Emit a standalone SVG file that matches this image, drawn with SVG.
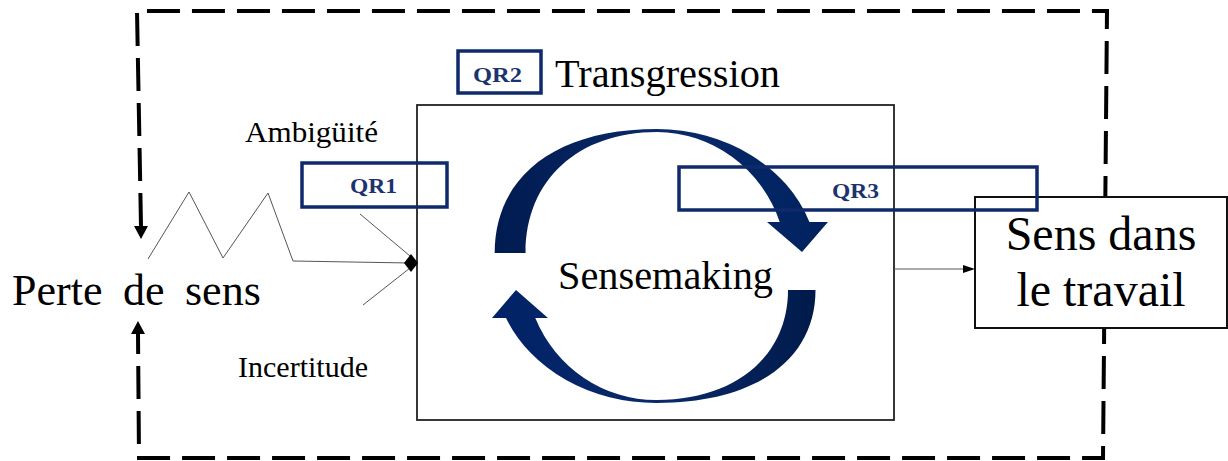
<svg xmlns="http://www.w3.org/2000/svg" width="1228" height="461" viewBox="0 0 1228 461">
<style>
.serif{font-family:"Liberation Serif","Times New Roman",serif;fill:#000}
.qr{font-family:"Liberation Serif","Times New Roman",serif;font-weight:bold;fill:#1d336e}
.qrbox{fill:none;stroke:#0f2a6b;stroke-width:3.5}
.thin{fill:none;stroke:#555;stroke-width:1}
.dash{fill:none;stroke:#000;stroke-width:4;stroke-dasharray:33 12}
</style>
<defs>
<linearGradient id="gUp" x1="0" y1="0" x2="1" y2="0">
<stop offset="0" stop-color="#001b50"/><stop offset="0.5" stop-color="#0a2a6a"/><stop offset="1" stop-color="#00225f"/>
</linearGradient>
<linearGradient id="gDown" x1="0" y1="0" x2="1" y2="0">
<stop offset="0" stop-color="#002266"/><stop offset="0.5" stop-color="#0a2a6a"/><stop offset="1" stop-color="#001a4a"/>
</linearGradient>
</defs>
<rect width="1228" height="461" fill="#fff"/>

<g id="loop">
<path class="dash" d="M141,226 L137,11 L1107,11 L1103,458 L139,458 L138,334"/>
<polygon points="134,226 148,226 141,239" fill="#000"/>
<polygon points="131,334 145,334 138,321" fill="#000"/>
</g>

<g id="sensemaking-box">
<rect x="417" y="105" width="477" height="315" fill="none" stroke="#222" stroke-width="1.8"/>
<path id="arrow-up" d="M494.7,253 C494.7,176 556,129 657,129 A162,137 0 0 1 809.4,222 L828,222 L802,252 L767,222 L779.7,222 A131,134 0 0 0 657,132 C578,132 525.6,180 525.6,253 Z" fill="url(#gUp)"/>
<path id="arrow-down" d="M815.5,290 C815.5,360 755,403 657,403 A162,137 0 0 1 506,318 L492,318 L516,290 L548,318 L535.3,318 A131,134 0 0 0 657,400 C735.6,400 788,356 788,290 Z" fill="url(#gDown)"/>
<text class="serif" x="558" y="289" font-size="41" textLength="215" lengthAdjust="spacingAndGlyphs">Sensemaking</text>
</g>

<g id="sens-travail">
<rect x="975" y="197" width="252" height="131" fill="#fff" stroke="#111" stroke-width="2"/>
<text class="serif" x="1101" y="250" font-size="48" text-anchor="middle">Sens dans</text>
<text class="serif" x="1101" y="306" font-size="48" text-anchor="middle">le travail</text>
</g>

<g id="perte">
<text class="serif" y="305" font-size="44"><tspan x="12">Perte</tspan><tspan x="123">de</tspan><tspan x="185">sens</tspan></text>
</g>

<g id="ambiguite">
<text class="serif" x="245" y="142" font-size="30" textLength="133" lengthAdjust="spacingAndGlyphs">Ambigüité</text>
</g>

<g id="incertitude">
<text class="serif" x="238" y="377" font-size="30" textLength="130" lengthAdjust="spacingAndGlyphs">Incertitude</text>
</g>

<g id="qr1">
<rect class="qrbox" x="302" y="163" width="145" height="44"/>
<text class="qr" x="350" y="193" font-size="22" textLength="47" lengthAdjust="spacingAndGlyphs">QR1</text>
</g>

<g id="qr2">
<rect class="qrbox" x="458" y="51" width="83" height="42"/>
<text class="qr" x="473" y="82" font-size="20" textLength="49" lengthAdjust="spacingAndGlyphs">QR2</text>
<text class="serif" x="555" y="87" font-size="41" textLength="225" lengthAdjust="spacingAndGlyphs">Transgression</text>
</g>

<g id="qr3">
<rect class="qrbox" x="679" y="167" width="358" height="43"/>
<text class="qr" x="832" y="198" font-size="22" textLength="47" lengthAdjust="spacingAndGlyphs">QR3</text>
</g>

<g id="connectors">
<polyline class="thin" points="148,259 189,192 223,258 268,193 293,261 410,263"/>
<line class="thin" x1="360" y1="214" x2="410" y2="256"/>
<line class="thin" x1="363" y1="305" x2="410" y2="268"/>
<path d="M404,263 L411,254 L418,263 L411,272 Z" fill="#000"/>
<line class="thin" x1="894" y1="269" x2="966" y2="269"/>
<polygon points="963,265 975,269 963,273" fill="#000"/>
</g>
</svg>
